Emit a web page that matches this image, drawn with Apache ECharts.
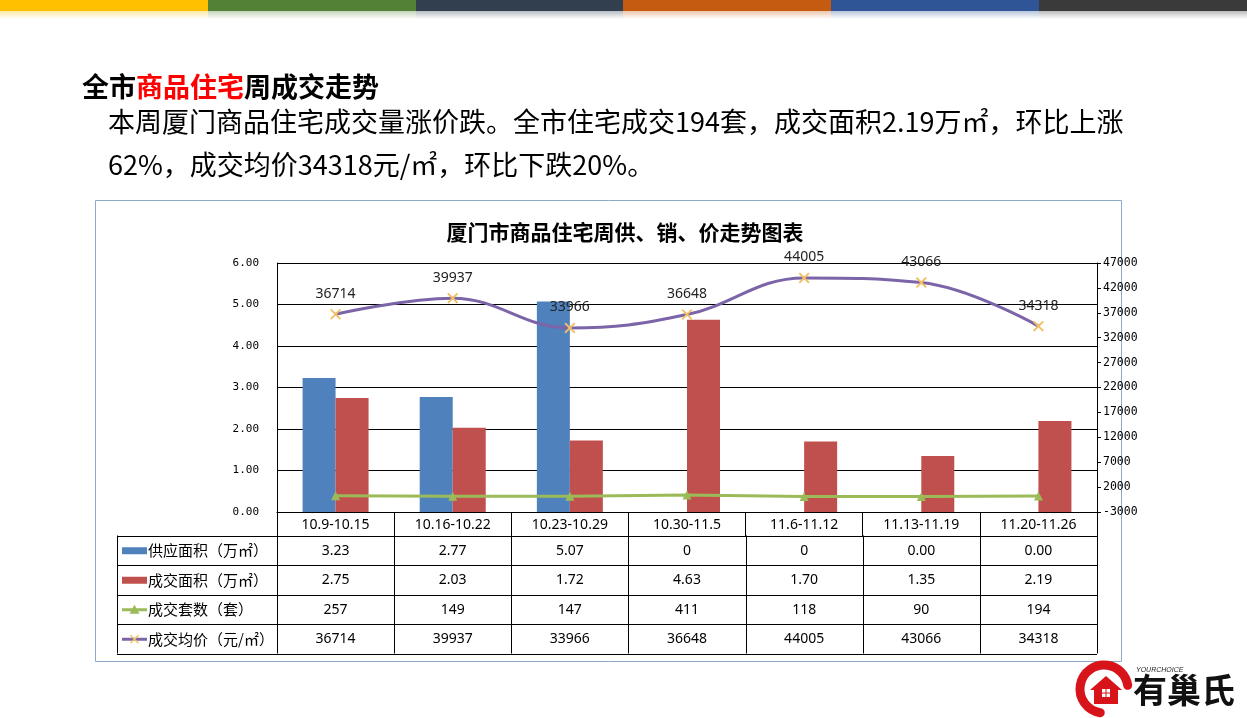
<!DOCTYPE html>
<html><head><meta charset="utf-8">
<script src="https://cdn.jsdelivr.net/npm/echarts@6/dist/echarts.min.js"></script>
<style>
html,body{margin:0;padding:0;width:1247px;height:718px;overflow:hidden;background:#fff;font-family:"Noto Sans CJK SC",sans-serif;}
#strip{position:absolute;left:0;top:0;width:1247px;height:20px;display:flex;z-index:2;}
.seg{flex:1;height:20px;}
#title{position:absolute;left:82px;top:73px;font-size:27px;font-weight:bold;color:#000;white-space:nowrap;line-height:26px;z-index:2;}
#title span{color:#ff0000;}
#para{position:absolute;left:108px;top:99px;font-size:27px;line-height:43px;color:#000;white-space:nowrap;z-index:2;}
#chart{position:absolute;left:0;top:0;width:1247px;height:718px;z-index:1;}
</style></head>
<body>
<div id="strip">
<div class="seg" style="background:linear-gradient(#ffc000 0,#ffc000 11px,rgba(255,192,0,.35) 11px,rgba(255,192,0,0) 19px)"></div>
<div class="seg" style="background:linear-gradient(#538135 0,#538135 11px,rgba(83,129,53,.35) 11px,rgba(83,129,53,0) 19px)"></div>
<div class="seg" style="background:linear-gradient(#323f4f 0,#323f4f 11px,rgba(50,63,79,.35) 11px,rgba(50,63,79,0) 19px)"></div>
<div class="seg" style="background:linear-gradient(#c55a11 0,#c55a11 11px,rgba(197,90,17,.35) 11px,rgba(197,90,17,0) 19px)"></div>
<div class="seg" style="background:linear-gradient(#2f5597 0,#2f5597 11px,rgba(47,85,151,.35) 11px,rgba(47,85,151,0) 19px)"></div>
<div class="seg" style="background:linear-gradient(#3a3a3a 0,#3a3a3a 11px,rgba(58,58,58,.35) 11px,rgba(58,58,58,0) 19px)"></div>
</div>
<div id="title">全市<span>商品住宅</span>周成交走势</div>
<div id="para">本周厦门商品住宅成交量涨价跌。全市住宅成交194套，成交面积2.19万㎡，环比上涨<br>62%，成交均价34318元/㎡，环比下跌20%。</div>
<div id="chart"></div>
<script>
// ---- data ----
var categories = ["10.9-10.15","10.16-10.22","10.23-10.29","10.30-11.5","11.6-11.12","11.13-11.19","11.20-11.26"];
var supplyArea = [3.23, 2.77, 5.07, 0, 0, 0.00, 0.00];
var supplyAreaText = ["3.23","2.77","5.07","0","0","0.00","0.00"];
var dealArea = [2.75, 2.03, 1.72, 4.63, 1.70, 1.35, 2.19];
var dealAreaText = ["2.75","2.03","1.72","4.63","1.70","1.35","2.19"];
var dealUnits = [257, 149, 147, 411, 118, 90, 194];
var avgPrice = [36714, 39937, 33966, 36648, 44005, 43066, 34318];
var seriesNames = ["供应面积（万㎡）","成交面积（万㎡）","成交套数（套）","成交均价（元/㎡）"];
var leftTicks = [0, 6, 1];        // min, max, interval
var rightTicks = [-3000, 47000, 5000];

var C_BLUE = '#4f81bd', C_RED = '#c0504d', C_GREEN = '#9bbb59', C_PURPLE = '#7b65a8', C_X = '#f2c063';
var xPath = 'path://M0,1.2L1.2,0L5,3.8L8.8,0L10,1.2L6.2,5L10,8.8L8.8,10L5,6.2L1.2,10L0,8.8L3.8,5Z';

var chart = echarts.init(document.getElementById('chart'), null, {renderer: 'canvas'});
var option = {
  animation: false,
  backgroundColor: 'transparent',
  title: {
    text: '厦门市商品住宅周供、销、价走势图表',
    left: 620, top: 217, textAlign: 'center',
    textStyle: {fontFamily: 'Noto Sans CJK SC', fontSize: 21, fontWeight: 'bold', color: '#000'}
  },
  grid: {left: 277, right: 150, top: 263, height: 249},
  xAxis: {
    type: 'category', data: categories, boundaryGap: true,
    axisLine: {lineStyle: {color: '#000', width: 1}},
    axisTick: {show: true, length: 24, lineStyle: {color: '#000'}},
    axisLabel: {margin: 6, fontFamily: 'Noto Sans', fontSize: 14, color: '#000'}
  },
  yAxis: [{
    type: 'value', min: leftTicks[0], max: leftTicks[1], interval: leftTicks[2],
    axisLine: {show: true, lineStyle: {color: '#000'}},
    axisTick: {show: false},
    splitLine: {show: true, lineStyle: {color: '#000', width: 1}},
    axisLabel: {margin: 18, fontFamily: 'DejaVu Sans Mono', fontSize: 11, color: '#000',
      formatter: function (v) { return v.toFixed(2); }}
  }, {
    type: 'value', min: rightTicks[0], max: rightTicks[1], interval: rightTicks[2],
    position: 'right',
    axisLine: {show: true, lineStyle: {color: '#000'}},
    axisTick: {show: true, length: 4, lineStyle: {color: '#000'}},
    splitLine: {show: false},
    axisLabel: {margin: 6, fontFamily: 'DejaVu Sans Mono', fontSize: 11.5, color: '#000',
      formatter: function (v) { return String(v); }}
  }],
  series: [{
    name: seriesNames[0], type: 'bar', yAxisIndex: 0, data: supplyArea,
    barWidth: 33, barGap: '0%', itemStyle: {color: C_BLUE}
  }, {
    name: seriesNames[1], type: 'bar', yAxisIndex: 0, data: dealArea,
    barWidth: 33, barGap: '0%', itemStyle: {color: C_RED}
  }, {
    name: seriesNames[2], type: 'line', yAxisIndex: 1, data: dealUnits,
    symbol: 'triangle', symbolSize: 9, showSymbol: true,
    lineStyle: {color: C_GREEN, width: 3}, itemStyle: {color: C_GREEN}
  }, {
    name: seriesNames[3], type: 'line', yAxisIndex: 1, data: avgPrice,
    smooth: 0.4, symbol: xPath, symbolSize: 11, showSymbol: true,
    lineStyle: {color: C_PURPLE, width: 3}, itemStyle: {color: C_X},
    label: {show: true, position: 'top', distance: 8, fontFamily: 'Noto Sans', fontSize: 14, color: '#222'}
  }]
};
chart.setOption(option);

// ---- data table under the chart, built from the same arrays ----
function buildTable() {
  var els = [];
  var rowsTop = 535.5, rowH = 29.5, left = 117;
  var x0 = chart.convertToPixel({xAxisIndex: 0}, 0);
  var x1 = chart.convertToPixel({xAxisIndex: 0}, 1);
  var colW = x1 - x0;
  var gridLeft = x0 - colW / 2;
  var gridRight = gridLeft + colW * categories.length;
  var rows = [supplyAreaText, dealAreaText, dealUnits.map(String), avgPrice.map(String)];
  var bottom = rowsTop + rowH * rows.length;
  for (var r = 0; r <= rows.length; r++) {
    var y = Math.round(rowsTop + r * rowH) + 0.5;
    els.push({type: 'line', shape: {x1: left, y1: y, x2: gridRight, y2: y}, style: {stroke: '#000', lineWidth: 1}, silent: true});
  }
  els.push({type: 'line', shape: {x1: left + 0.5, y1: rowsTop, x2: left + 0.5, y2: bottom}, style: {stroke: '#000', lineWidth: 1}, silent: true});
  for (var c = 0; c <= categories.length; c++) {
    var x = Math.round(gridLeft + c * colW) + 0.5;
    els.push({type: 'line', shape: {x1: x, y1: rowsTop, x2: x, y2: bottom}, style: {stroke: '#000', lineWidth: 1}, silent: true});
  }
  for (var r2 = 0; r2 < rows.length; r2++) {
    var cy = rowsTop + r2 * rowH + rowH / 2 + 0.5;
    for (var c2 = 0; c2 < categories.length; c2++) {
      var cx = chart.convertToPixel({xAxisIndex: 0}, c2);
      els.push({type: 'text', x: cx, y: cy, style: {text: rows[r2][c2], fontFamily: 'Noto Sans', fontSize: 14, fill: '#000', align: 'center', verticalAlign: 'middle'}, silent: true});
    }
    var kx = left + 5, kw = 25;
    if (r2 === 0 || r2 === 1) {
      els.push({type: 'rect', shape: {x: kx, y: cy - 3.5, width: kw, height: 7}, style: {fill: r2 === 0 ? C_BLUE : C_RED}, silent: true});
    } else if (r2 === 2) {
      els.push({type: 'line', shape: {x1: kx, y1: cy, x2: kx + kw, y2: cy}, style: {stroke: C_GREEN, lineWidth: 3}, silent: true});
      els.push({type: 'polygon', shape: {points: [[kx + kw / 2, cy - 5], [kx + kw / 2 + 5, cy + 4], [kx + kw / 2 - 5, cy + 4]]}, style: {fill: C_GREEN}, silent: true});
    } else {
      els.push({type: 'line', shape: {x1: kx, y1: cy, x2: kx + kw, y2: cy}, style: {stroke: C_PURPLE, lineWidth: 3}, silent: true});
      var mx = kx + kw / 2;
      els.push({type: 'line', shape: {x1: mx - 4, y1: cy - 4, x2: mx + 4, y2: cy + 4}, style: {stroke: C_X, lineWidth: 1.5}, silent: true});
      els.push({type: 'line', shape: {x1: mx - 4, y1: cy + 4, x2: mx + 4, y2: cy - 4}, style: {stroke: C_X, lineWidth: 1.5}, silent: true});
    }
    els.push({type: 'text', x: kx + kw + 1, y: cy, style: {text: seriesNames[r2], fontFamily: 'Noto Sans CJK SC', fontSize: 15, fill: '#000', align: 'left', verticalAlign: 'middle'}, silent: true});
  }
  els.push({type: 'rect', shape: {x: 95.5, y: 200.5, width: 1026, height: 461}, style: {fill: 'none', stroke: '#8eaacb', lineWidth: 1}, silent: true});
  // logo
  els.push({type: 'arc', shape: {cx: 1104, cy: 689, r: 24, startAngle: Math.PI * 0.55, endAngle: Math.PI * 1.95, clockwise: true}, style: {stroke: '#d7141a', lineWidth: 9, fill: 'none', lineCap: 'round'}, silent: true});
  els.push({type: 'polygon', shape: {points: [[1090, 690], [1106, 676], [1122, 690], [1118, 690], [1118, 704], [1094, 704], [1094, 690]]}, style: {fill: '#d7141a'}, silent: true});
  els.push({type: 'rect', shape: {x: 1102, y: 689, width: 8, height: 8}, style: {fill: '#fff'}, silent: true});
  els.push({type: 'line', shape: {x1: 1106, y1: 689, x2: 1106, y2: 697}, style: {stroke: '#d7141a', lineWidth: 1}, silent: true});
  els.push({type: 'line', shape: {x1: 1102, y1: 693, x2: 1110, y2: 693}, style: {stroke: '#d7141a', lineWidth: 1}, silent: true});
  els.push({type: 'text', x: 1136, y: 667, style: {text: 'YOURCHOICE', fontFamily: 'Liberation Sans', fontStyle: 'italic', fontSize: 7, fill: '#222'}, silent: true});
  els.push({type: 'text', x: 1133, y: 673, style: {text: '有巢氏', fontFamily: 'Noto Sans CJK SC', fontWeight: 'bold', fontSize: 34, fill: '#111'}, silent: true});
  chart.setOption({graphic: {elements: els}});
}
buildTable();
</script>
</body></html>
